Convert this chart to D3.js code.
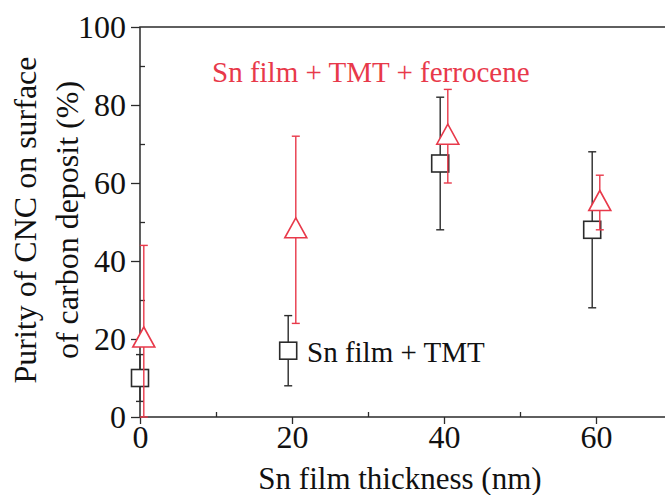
<!DOCTYPE html>
<html>
<head>
<meta charset="utf-8">
<script src="https://cdn.jsdelivr.net/npm/d3@7.9.0/dist/d3.min.js"></script>
<style>
  body { margin: 0; background: #fff; }
  svg text { font-family: "Liberation Serif", "Times New Roman", Times, serif !important; }
</style>
</head>
<body>
<svg width="665" height="495"></svg>
<script>
// Sn film + TMT (black squares)
const tmtX = [0, 19.5, 39.5, 59.5];
const tmtY = [10, 17, 65, 48];
const tmtLo = [4, 8, 48, 28];
const tmtHi = [16, 26, 82, 68];

// Sn film + TMT + ferrocene (red triangles)
const ferX = [0.5, 20.5, 40.5, 60.5];
const ferY = [20, 48, 72, 55];
const ferLo = [0, 24, 60, 48];
const ferHi = [44, 72, 84, 62];

const xTicks = [0, 20, 40, 60];
const yTicks = [0, 20, 40, 60, 80, 100];

const red = "#e8394a";
const dark = "#2b2b2b";

const svg = d3.select("svg");
const x = d3.scaleLinear().domain([0, 70]).range([140, 672]);
const y = d3.scaleLinear().domain([0, 100]).range([417, 27]);

// frame
svg.append("path")
  .attr("d", `M${x(70)},${y(100)}H${x(0)}V${y(0)}H${x(70)}`)
  .attr("fill", "none").attr("stroke", dark).attr("stroke-width", 1.5);

// x axis
const xAxis = svg.append("g").attr("transform", `translate(0,${y(0)})`)
  .call(d3.axisBottom(x).tickValues(xTicks).tickSize(7).tickPadding(1));
xAxis.append("g").call(d3.axisBottom(x).tickValues([10, 30, 50]).tickSize(-5).tickFormat(""));
// y axis
const yAxis = svg.append("g").attr("transform", `translate(${x(0)},0)`)
  .call(d3.axisLeft(y).tickValues(yTicks).tickSize(9).tickPadding(5));
yAxis.append("g").call(d3.axisLeft(y).tickValues([10, 30, 50, 70, 90]).tickSize(-5).tickFormat(""));

svg.selectAll(".domain").remove();
svg.selectAll(".tick line").attr("stroke", dark).attr("stroke-width", 1.3);
svg.selectAll(".tick text").attr("font-size", 32).attr("fill", "#111");

function series(xs, ys, lo, hi, color, shape) {
  const g = svg.append("g");
  xs.forEach((d, i) => {
    const cx = x(d);
    g.append("line").attr("x1", cx).attr("x2", cx).attr("y1", y(lo[i])).attr("y2", y(hi[i]))
      .attr("stroke", color).attr("stroke-width", 1.4);
    [lo[i], hi[i]].forEach(v => {
      g.append("line").attr("x1", cx - 4).attr("x2", cx + 4).attr("y1", y(v)).attr("y2", y(v))
        .attr("stroke", color).attr("stroke-width", 1.4);
    });
    const cy = y(ys[i]);
    if (shape === "square") {
      g.append("rect").attr("x", cx - 8.5).attr("y", cy - 8.5).attr("width", 17).attr("height", 17)
        .attr("fill", "#fff").attr("stroke", color).attr("stroke-width", 1.6);
    } else {
      g.append("path")
        .attr("d", `M${cx},${cy - 12}L${cx + 11},${cy + 8}L${cx - 11},${cy + 8}Z`)
        .attr("fill", "#fff").attr("stroke", color).attr("stroke-width", 1.6);
    }
  });
}
series(tmtX, tmtY, tmtLo, tmtHi, dark, "square");
series(ferX, ferY, ferLo, ferHi, red, "triangle");

// annotations
svg.append("text").attr("x", 212).attr("y", 82).attr("font-size", 29).attr("fill", red)
  .text("Sn film + TMT + ferrocene");
svg.append("text").attr("x", 307).attr("y", 362).attr("font-size", 29).attr("fill", "#111")
  .text("Sn film + TMT");

// axis titles
svg.append("text").attr("x", 400).attr("y", 489).attr("text-anchor", "middle")
  .attr("font-size", 31).attr("fill", "#111").text("Sn film thickness (nm)");
const yl = svg.append("text").attr("transform", "translate(36,220) rotate(-90)")
  .attr("text-anchor", "middle").attr("font-size", 32).attr("fill", "#111");
yl.append("tspan").attr("x", 0).attr("dy", 0).text("Purity of CNC on surface");
yl.append("tspan").attr("x", 0).attr("dy", 42).text("of carbon deposit (%)");
</script>
</body>
</html>
